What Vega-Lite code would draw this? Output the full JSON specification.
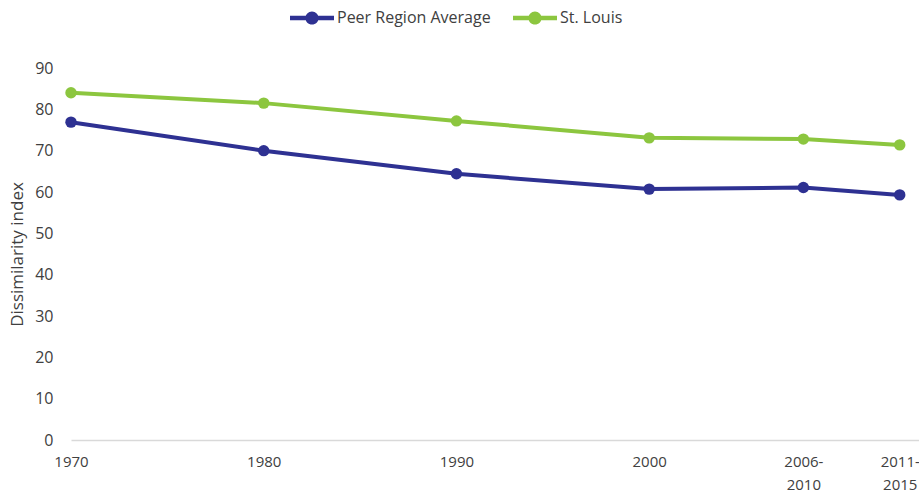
{
  "$schema": "https://vega.github.io/schema/vega-lite/v6.json",
  "autosize": {"type": "none"},
  "width": 848,
  "height": 372,
  "padding": {"left": 71, "top": 68, "right": 0, "bottom": 56},
  "background": "white",
  "config": {
    "view": {"stroke": null},
    "font": "Open Sans",
    "axis": {"labelColor": "#404040", "titleColor": "#404040", "labelFont": "Open Sans", "titleFont": "Open Sans"}
  },
  "data": {
    "values": [
      {"year": 1970, "series": "Peer Region Average", "value": 76.9},
      {"year": 1980, "series": "Peer Region Average", "value": 70.0},
      {"year": 1990, "series": "Peer Region Average", "value": 64.4},
      {"year": 2000, "series": "Peer Region Average", "value": 60.7},
      {"year": 2008, "series": "Peer Region Average", "value": 61.1},
      {"year": 2013, "series": "Peer Region Average", "value": 59.3},
      {"year": 1970, "series": "St. Louis", "value": 84.0},
      {"year": 1980, "series": "St. Louis", "value": 81.5},
      {"year": 1990, "series": "St. Louis", "value": 77.2},
      {"year": 2000, "series": "St. Louis", "value": 73.1},
      {"year": 2008, "series": "St. Louis", "value": 72.8},
      {"year": 2013, "series": "St. Louis", "value": 71.4}
    ]
  },
  "mark": {"type": "line", "strokeWidth": 4, "point": {"filled": true, "size": 130}},
  "encoding": {
    "x": {
      "field": "year", "type": "quantitative",
      "scale": {"domain": [1970, 2014], "nice": false, "zero": false},
      "axis": {
        "title": null, "grid": false, "ticks": false,
        "values": [1970, 1980, 1990, 2000, 2008, 2013],
        "labelExpr": "datum.value == 2008 ? ['2006-', '2010'] : datum.value == 2013 ? ['2011-', '2015'] : format(datum.value, 'd')",
        "labelFontSize": 15, "labelPadding": 14, "labelLineHeight": 23,
        "labelBaseline": "top", "labelFlush": false, "labelOverlap": false,
        "domainColor": "#d9d9d9", "domainWidth": 1.5
      }
    },
    "y": {
      "field": "value", "type": "quantitative",
      "scale": {"domain": [0, 90], "nice": false},
      "axis": {
        "title": "Dissimilarity index", "grid": false, "ticks": false, "domain": false,
        "values": [0, 10, 20, 30, 40, 50, 60, 70, 80, 90],
        "labelFontSize": 16, "labelPadding": 18, "titleFontSize": 17, "titleFontWeight": "normal", "titlePadding": 8
      }
    },
    "color": {
      "field": "series", "type": "nominal",
      "scale": {"domain": ["Peer Region Average", "St. Louis"], "range": ["#2E3192", "#8CC63F"]},
      "legend": {
        "title": null, "orient": "none", "direction": "horizontal",
        "legendX": 219, "legendY": -72,
        "labelFontSize": 16, "labelColor": "#404040", "labelFont": "Open Sans",
        "symbolType": "M-1,-0.1H1V0.1H-1Z M-0.3,0 A0.3,0.3 0 1,1 0.3,0 A0.3,0.3 0 1,1 -0.3,0Z",
        "symbolSize": 1936, "symbolStrokeWidth": 0, "columnPadding": 22, "labelOffset": 3,
        "encode": {"symbols": {"update": {"fill": {"scale": "color", "field": "value"}, "fillOpacity": {"value": 1}, "strokeWidth": {"value": 0}}}}
      }
    }
  }
}
